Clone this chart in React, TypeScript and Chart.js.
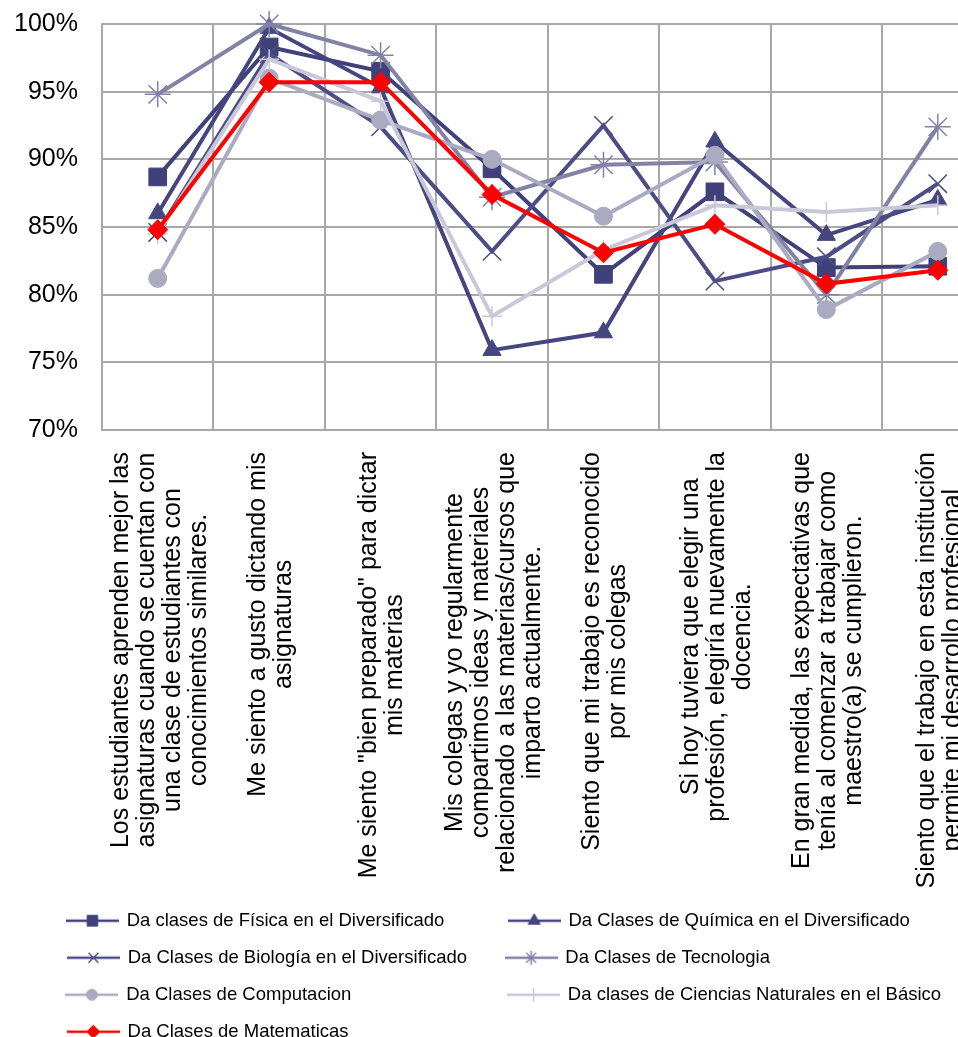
import React, { useEffect, useRef } from 'react';
import { Chart, CategoryScale, registerables } from 'chart.js';
import { drawPoint } from 'chart.js/helpers';

// ---------- data ----------
const categories: string[][] = [
  ['Los estudiantes aprenden mejor las', 'asignaturas cuando se cuentan con', 'una clase de estudiantes con', 'conocimientos similares.'],
  ['Me siento a gusto dictando mis', 'asignaturas'],
  ['Me siento "bien preparado" para dictar', 'mis materias'],
  ['Mis colegas y yo regularmente', 'compartimos ideas y materiales', 'relacionado a las materias/cursos que', 'imparto actualmente.'],
  ['Siento que mi trabajo es reconocido', 'por mis colegas'],
  ['Si hoy tuviera que elegir una', 'profesión, elegiría nuevamente la', 'docencia.'],
  ['En gran medida, las expectativas que', 'tenía al comenzar a trabajar como', 'maestro(a) se cumplieron.'],
  ['Siento que el trabajo en esta institución', 'permite mi desarrollo profesional'],
];

const seriesNames = [
  'Da clases de Física en el Diversificado',
  'Da Clases de Química en el Diversificado',
  'Da Clases de Biología en el Diversificado',
  'Da Clases de Tecnologia',
  'Da Clases de Computacion',
  'Da clases de Ciencias Naturales en el Básico',
  'Da Clases de Matematicas',
];

const fisica = [88.7, 98.3, 96.5, 89.3, 81.5, 87.6, 82.0, 82.1];
const quimica = [86.0, 99.7, 95.3, 75.9, 77.2, 91.3, 84.4, 87.0];
const biologia = [84.6, 97.8, 92.4, 83.2, 92.5, 81.0, 82.8, 88.2];
const tecnologia = [94.8, 100.0, 97.7, 87.2, 89.6, 89.8, 80.0, 92.4];
const computacion = [81.2, 96.0, 92.9, 90.0, 85.8, 90.3, 78.9, 83.2];
const cienciasNaturales = [84.5, 97.4, 94.3, 78.4, 83.3, 86.6, 86.1, 86.6];
const matematicas = [84.8, 95.7, 95.7, 87.4, 83.1, 85.2, 80.8, 81.8];

const seriesValues = [fisica, quimica, biologia, tecnologia, computacion, cienciasNaturales, matematicas];

const yMin = 70;
const yMax = 100;
const yStep = 5;

// ---------- styles ----------
const FONT = "'Liberation Sans', Arial, sans-serif";
const CANVAS_W = 1008;
const CANVAS_H = 1051;
const colors = ['#40407a', '#45457f', '#4d4d86', '#8282a6', '#aaaac0', '#c8c8d8', '#ff0000'];
const pointStyles = ['rect', 'triangle', 'crossRot', 'star', 'circle', 'cross', 'rectRot'];
const pointRadii = [12.5, 10.5, 13, 13, 9, 10, 10];
const pointBorders = [1, 1, 1.5, 1.5, 1, 1.5, 1];
const legendRadii = [7.5, 7, 7, 7, 5.5, 7, 6.5];
const gridColor = '#a8a8a8';

class CenteredCategoryScale extends CategoryScale {
  static id = 'centeredCategory';
  static defaults = CategoryScale.defaults;
  _computeLabelItems(chartArea: any) {
    // @ts-ignore
    const items = super._computeLabelItems(chartArea);
    const ctx = (this as any).ctx as CanvasRenderingContext2D;
    for (const item of items) {
      const lines: string[] = Array.isArray(item.label) ? item.label : [String(item.label)];
      const lh = item.font.lineHeight;
      ctx.save();
      ctx.font = item.font.string;
      const maxW = Math.max(...lines.map((l) => ctx.measureText(l).width));
      ctx.restore();
      item.options.translation = [
        item.options.translation[0] - ((lines.length - 1) * lh) / 2,
        item.options.translation[1] + maxW / 2,
      ];
      item.options.textAlign = 'center';
    }
    return items;
  }
}

Chart.register(...registerables, CenteredCategoryScale as any);

function legendImage(i: number) {
  const c = document.createElement('canvas');
  c.width = 53;
  c.height = 20;
  const ctx = c.getContext('2d')!;
  ctx.strokeStyle = colors[i];
  ctx.lineWidth = 2.5;
  ctx.beginPath();
  ctx.moveTo(0, 10);
  ctx.lineTo(53, 10);
  ctx.stroke();
  ctx.fillStyle = colors[i];
  ctx.strokeStyle = colors[i];
  ctx.lineWidth = pointBorders[i];
  drawPoint(ctx, { pointStyle: pointStyles[i] as any, radius: legendRadii[i], rotation: 0, borderWidth: pointBorders[i] } as any, 26.5, 10);
  return c;
}

export default function App() {
  const ref = useRef<HTMLCanvasElement>(null);

  useEffect(() => {
    if (!ref.current) return;
    Chart.defaults.font.family = FONT;

    const legendSize = 18.5;
    const legendPad = 18.5;
    const boxW = 50;
    const colPitch = 440;
    const legendStart = 68;
    const mctx = document.createElement('canvas').getContext('2d')!;
    mctx.font = `${legendSize}px ${FONT}`;
    const padTo = (t: string, target: number) => {
      let s = t;
      while (mctx.measureText(s + ' ').width <= target + 2.5) s += ' ';
      return s;
    };
    const base = boxW + legendSize / 2;
    const t1 = colPitch - legendPad - base;
    let t2 = CANVAS_W + legendPad - 2 * legendStart - colPitch - base - legendPad;
    seriesNames.forEach((n, i) => {
      if (i % 2 === 1) t2 = Math.max(t2, mctx.measureText(n).width + 1);
    });
    const rowW = colPitch + base + t2 + legendPad;
    const legendTexts = seriesNames.map((n, i) => {
      if (i === seriesNames.length - 1 && i % 2 === 0) return padTo(n, rowW - legendPad - base);
      return padTo(n, i % 2 === 0 ? t1 : t2);
    });
    const images = seriesNames.map((_, i) => legendImage(i));

    const chart = new Chart(ref.current, {
      type: 'line',
      data: {
        labels: categories as any,
        datasets: seriesValues.map((vals, i) => ({
          label: seriesNames[i],
          data: vals,
          borderColor: colors[i],
          backgroundColor: colors[i],
          borderWidth: 4,
          pointStyle: pointStyles[i] as any,
          pointRadius: pointRadii[i],
          pointBorderWidth: pointBorders[i],
          pointBackgroundColor: colors[i],
          pointBorderColor: colors[i],
          tension: 0,
          clip: false as any,
          order: seriesValues.length - 1 - i,
        })),
      },
      options: {
        responsive: false,
        animation: false,
        events: [],
        layout: { padding: { top: 24, left: 0, right: 0, bottom: 0 } },
        plugins: {
          tooltip: { enabled: false },
          legend: {
            position: 'bottom',
            align: 'center',
            labels: {
              usePointStyle: true,
              pointStyleWidth: boxW,
              boxHeight: legendSize,
              padding: legendPad,
              color: '#000',
              font: { size: legendSize, family: FONT },
              generateLabels: () =>
                seriesNames.map((_, i) => ({
                  text: legendTexts[i],
                  fillStyle: colors[i],
                  strokeStyle: colors[i],
                  lineWidth: 0,
                  pointStyle: images[i] as any,
                  hidden: false,
                  datasetIndex: i,
                })),
            },
          },
        },
        scales: {
          x: {
            type: 'centeredCategory' as any,
            offset: true,
            grid: { offset: true, color: gridColor, lineWidth: 2, drawTicks: true, tickLength: 19, tickColor: 'rgba(0,0,0,0)' },
            border: { color: gridColor, width: 2 },
            ticks: {
              autoSkip: false,
              minRotation: 90,
              maxRotation: 90,
              padding: 3,
              labelOffset: 2,
              color: '#000',
              font: { size: 25, family: FONT, lineHeight: '26px' },
            },
            afterFit: (s: any) => {
              s.height = 463;
            },
          } as any,
          y: {
            min: yMin,
            max: yMax,
            grid: { color: gridColor, lineWidth: 2, drawTicks: true, tickLength: 21, tickColor: 'rgba(0,0,0,0)' },
            border: { color: gridColor, width: 2 },
            ticks: {
              stepSize: yStep,
              padding: 3,
              color: '#000',
              font: { size: 25, family: FONT },
              callback: (v: any) => `${v}%`,
            },
            afterFit: (s: any) => {
              s.width = 102;
            },
          } as any,
        },
      },
    });
    return () => chart.destroy();
  }, []);

  return (
    <div style={{ position: 'absolute', left: 0, top: 0, width: 958, height: 1037, overflow: 'hidden', background: '#fff' }}>
      <canvas ref={ref} width={CANVAS_W} height={CANVAS_H} style={{ display: 'block' }} />
    </div>
  );
}
